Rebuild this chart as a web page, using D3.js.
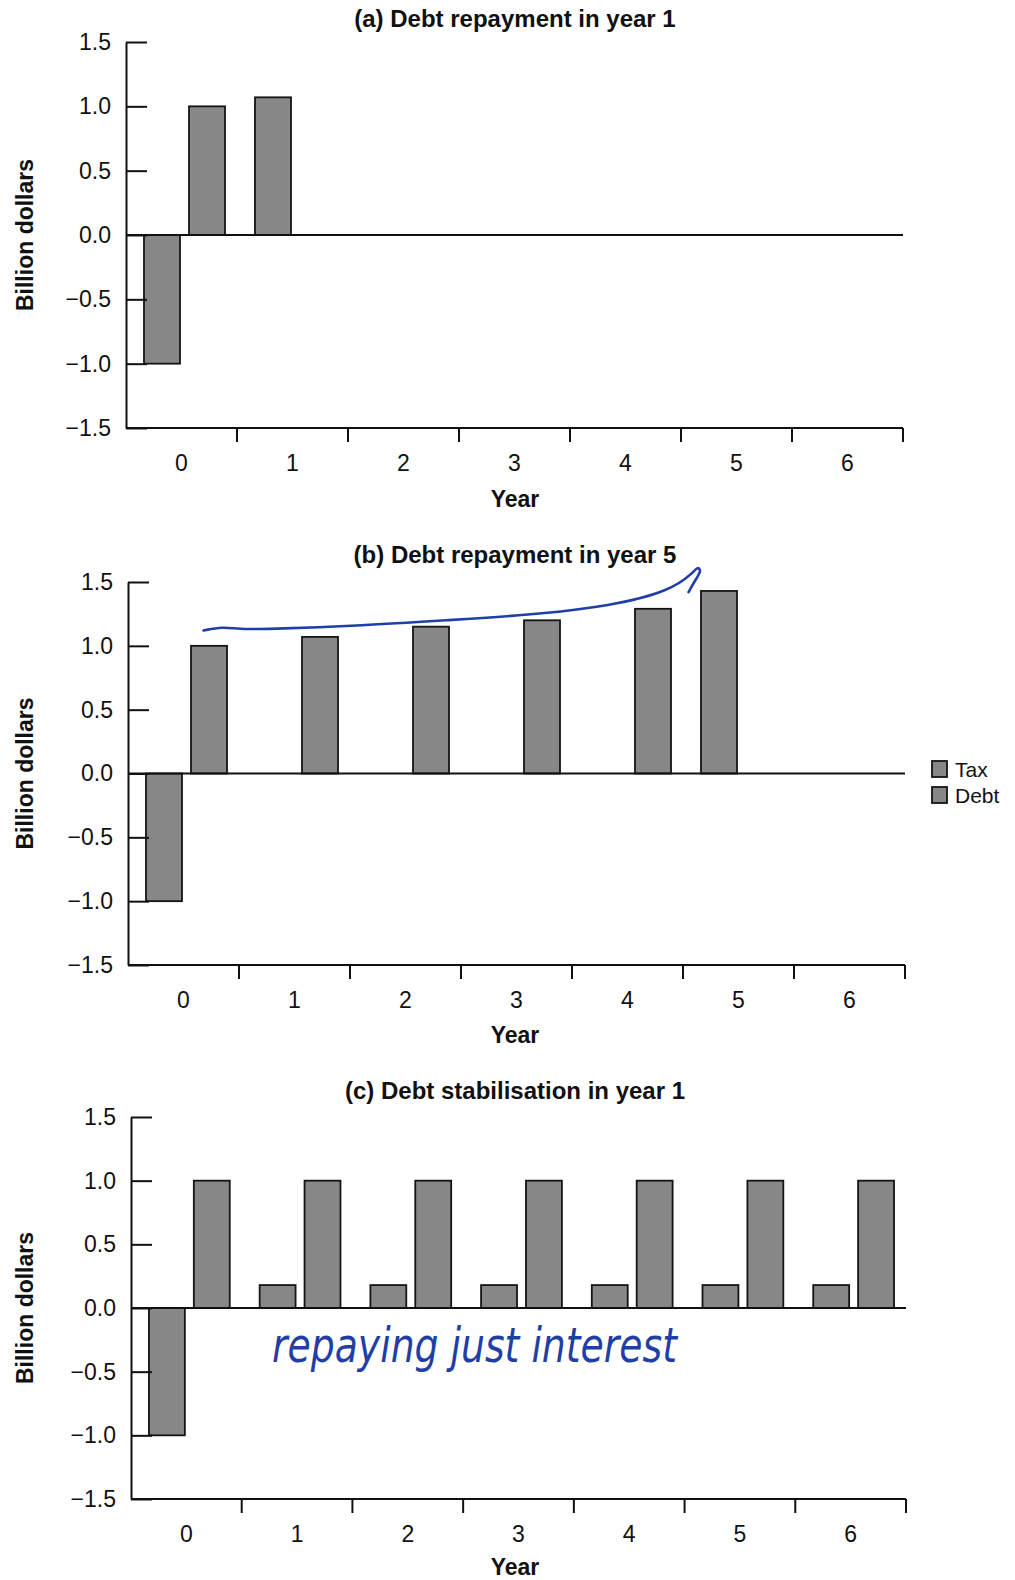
<!DOCTYPE html>
<html>
<head>
<meta charset="utf-8">
<script src="https://cdn.jsdelivr.net/npm/d3@7"></script>
<style>
  body { margin: 0; background: #fff; }
  text { font-family: "Liberation Sans", Arial, Helvetica, sans-serif; fill: #111; }
</style>
</head>
<body>
<div id="chart"></div>
<script>
// data
var years = [0, 1, 2, 3, 4, 5, 6];
var yTicks = [-1.5, -1.0, -0.5, 0.0, 0.5, 1.0, 1.5];
var seriesNames = ["Tax", "Debt"];

var taxA  = [-1.0, 1.07, null, null, null, null, null];
var debtA = [ 1.0, null, null, null, null, null, null];

var taxB  = [-1.0, null, null, null, null, 1.43, null];
var debtB = [ 1.0, 1.07, 1.15, 1.20, 1.29, null, null];

var taxC  = [-1.0, 0.18, 0.18, 0.18, 0.18, 0.18, 0.18];
var debtC = [ 1.0, 1.00, 1.00, 1.00, 1.00, 1.00, 1.00];

var titles = [
    "(a) Debt repayment in year 1",
    "(b) Debt repayment in year 5",
    "(c) Debt stabilisation in year 1"
];

// hand-drawn pen marks on the page: [position in years, value]
var penCurveB = [[0.68, 1.12], [0.85, 1.15], [1.0, 1.13], [1.22, 1.13], [2.14, 1.16],
                 [2.86, 1.20], [3.60, 1.24], [4.34, 1.31], [4.89, 1.43], [5.10, 1.58],
                 [5.13, 1.62], [5.17, 1.59], [5.10, 1.50], [5.05, 1.42]];
var penNoteC = "repaying just interest";

var w = 1015;
var h = 1580;

var svg = d3.select("#chart")
    .append("svg")
    .attr("width", w)
    .attr("height", h);

function drawPanel(p, tax, debt, title) {

    var g = svg.append("g");

    var x0 = d3.scaleBand()
        .domain(years)
        .range([p.left, p.right])
        .padding(0);

    var x1 = d3.scaleBand()
        .domain(seriesNames)
        .range([0, x0.bandwidth()])
        .paddingInner(0.2)
        .paddingOuter(0.333)
        .align(0.6);

    var y = d3.scaleLinear()
        .domain([-1.5, 1.5])
        .range([p.bottom, p.top]);

    var rows = [];
    years.forEach(function (yr, i) {
        if (tax[i] != null) rows.push({ year: yr, key: "Tax", value: tax[i] });
        if (debt[i] != null) rows.push({ year: yr, key: "Debt", value: debt[i] });
    });

    // bars
    g.selectAll("rect.bar")
        .data(rows)
        .enter()
        .append("rect")
        .attr("class", "bar")
        .attr("x", function (d) { return x0(d.year) + x1(d.key); })
        .attr("width", x1.bandwidth())
        .attr("y", function (d) { return y(Math.max(0, d.value)); })
        .attr("height", function (d) { return Math.abs(y(d.value) - y(0)); })
        .style("fill", "#878787")
        .style("stroke", "#141414")
        .style("stroke-width", 1.8);

    // zero line
    g.append("line")
        .attr("x1", p.left)
        .attr("x2", p.right)
        .attr("y1", y(0))
        .attr("y2", y(0))
        .style("stroke", "#111")
        .style("stroke-width", 2);

    // y axis, ticks pointing inward
    var yAxis = g.append("g")
        .attr("transform", "translate(" + p.left + ",0)")
        .call(d3.axisLeft(y)
            .tickValues(yTicks)
            .tickSize(-21)
            .tickSizeOuter(0)
            .tickPadding(15)
            .tickFormat(d3.format(".1f")));

    yAxis.select(".domain").style("stroke", "#111").style("stroke-width", 2);
    yAxis.selectAll(".tick line").style("stroke", "#111").style("stroke-width", 2);
    yAxis.selectAll(".tick text")
        .style("font-size", "23px")
        .style("fill", "#111");

    // x axis: labels at group centres
    var xAxis = g.append("g")
        .attr("transform", "translate(0," + p.bottom + ")")
        .call(d3.axisBottom(x0).tickSize(0).tickPadding(27));

    xAxis.select(".domain").remove();
    xAxis.selectAll(".tick text")
        .style("font-size", "23px")
        .style("fill", "#111");

    g.append("line")
        .attr("x1", p.left)
        .attr("x2", p.right)
        .attr("y1", p.bottom)
        .attr("y2", p.bottom)
        .style("stroke", "#111")
        .style("stroke-width", 2);

    // boundary ticks between years
    g.selectAll("line.bound")
        .data(years)
        .enter()
        .append("line")
        .attr("class", "bound")
        .attr("x1", function (d) { return x0(d) + x0.bandwidth(); })
        .attr("x2", function (d) { return x0(d) + x0.bandwidth(); })
        .attr("y1", p.bottom)
        .attr("y2", p.bottom + 14)
        .style("stroke", "#111")
        .style("stroke-width", 2);

    // titles
    g.append("text")
        .attr("x", 515)
        .attr("y", p.titleY)
        .attr("text-anchor", "middle")
        .style("font-size", "24px")
        .style("font-weight", "bold")
        .text(title);

    g.append("text")
        .attr("x", 515)
        .attr("y", p.yearY)
        .attr("text-anchor", "middle")
        .style("font-size", "23px")
        .style("font-weight", "bold")
        .text("Year");

    g.append("text")
        .attr("transform", "translate(33," + y(0) + ") rotate(-90)")
        .attr("text-anchor", "middle")
        .style("font-size", "23px")
        .style("font-weight", "bold")
        .text("Billion dollars");

    return { x0: x0, y: y, g: g };
}

var pa = drawPanel({ top: 42, bottom: 428, left: 126, right: 903, titleY: 27, yearY: 507 }, taxA, debtA, titles[0]);
var pb = drawPanel({ top: 582, bottom: 965, left: 128, right: 905, titleY: 563, yearY: 1043 }, taxB, debtB, titles[1]);
var pc = drawPanel({ top: 1117, bottom: 1499, left: 131, right: 906, titleY: 1099, yearY: 1575 }, taxC, debtC, titles[2]);

// legend (panel b)
var legend = pb.g.selectAll(".legend")
    .data(seriesNames)
    .enter()
    .append("g")
    .attr("class", "legend");

legend.append("rect")
    .attr("x", 932)
    .attr("y", function (d, i) { return 761 + i * 26; })
    .attr("width", 15)
    .attr("height", 16)
    .style("fill", "#878787")
    .style("stroke", "#141414")
    .style("stroke-width", 1.8);

legend.append("text")
    .attr("x", 955)
    .attr("y", function (d, i) { return 777 + i * 26; })
    .style("font-size", "21px")
    .text(function (d) { return d; });

// pen marks
var xb = d3.scaleLinear().domain([0, years.length]).range(pb.x0.range());
pb.g.append("path")
    .datum(penCurveB)
    .attr("d", d3.line()
        .x(function (d) { return xb(d[0]); })
        .y(function (d) { return pb.y(d[1]); })
        .curve(d3.curveBasis))
    .style("fill", "none")
    .style("stroke", "#1f3fa6")
    .style("stroke-width", 2.6)
    .style("stroke-linecap", "round");

pc.g.append("text")
    .attr("x", 272)
    .attr("y", 1362)
    .attr("textLength", 405)
    .attr("lengthAdjust", "spacingAndGlyphs")
    .style("font-family", "'DejaVu Sans', sans-serif")
    .style("font-style", "italic")
    .style("font-weight", 200)
    .style("font-size", "48px")
    .style("fill", "#1f3fa6")
    .text(penNoteC);
</script>
</body>
</html>
